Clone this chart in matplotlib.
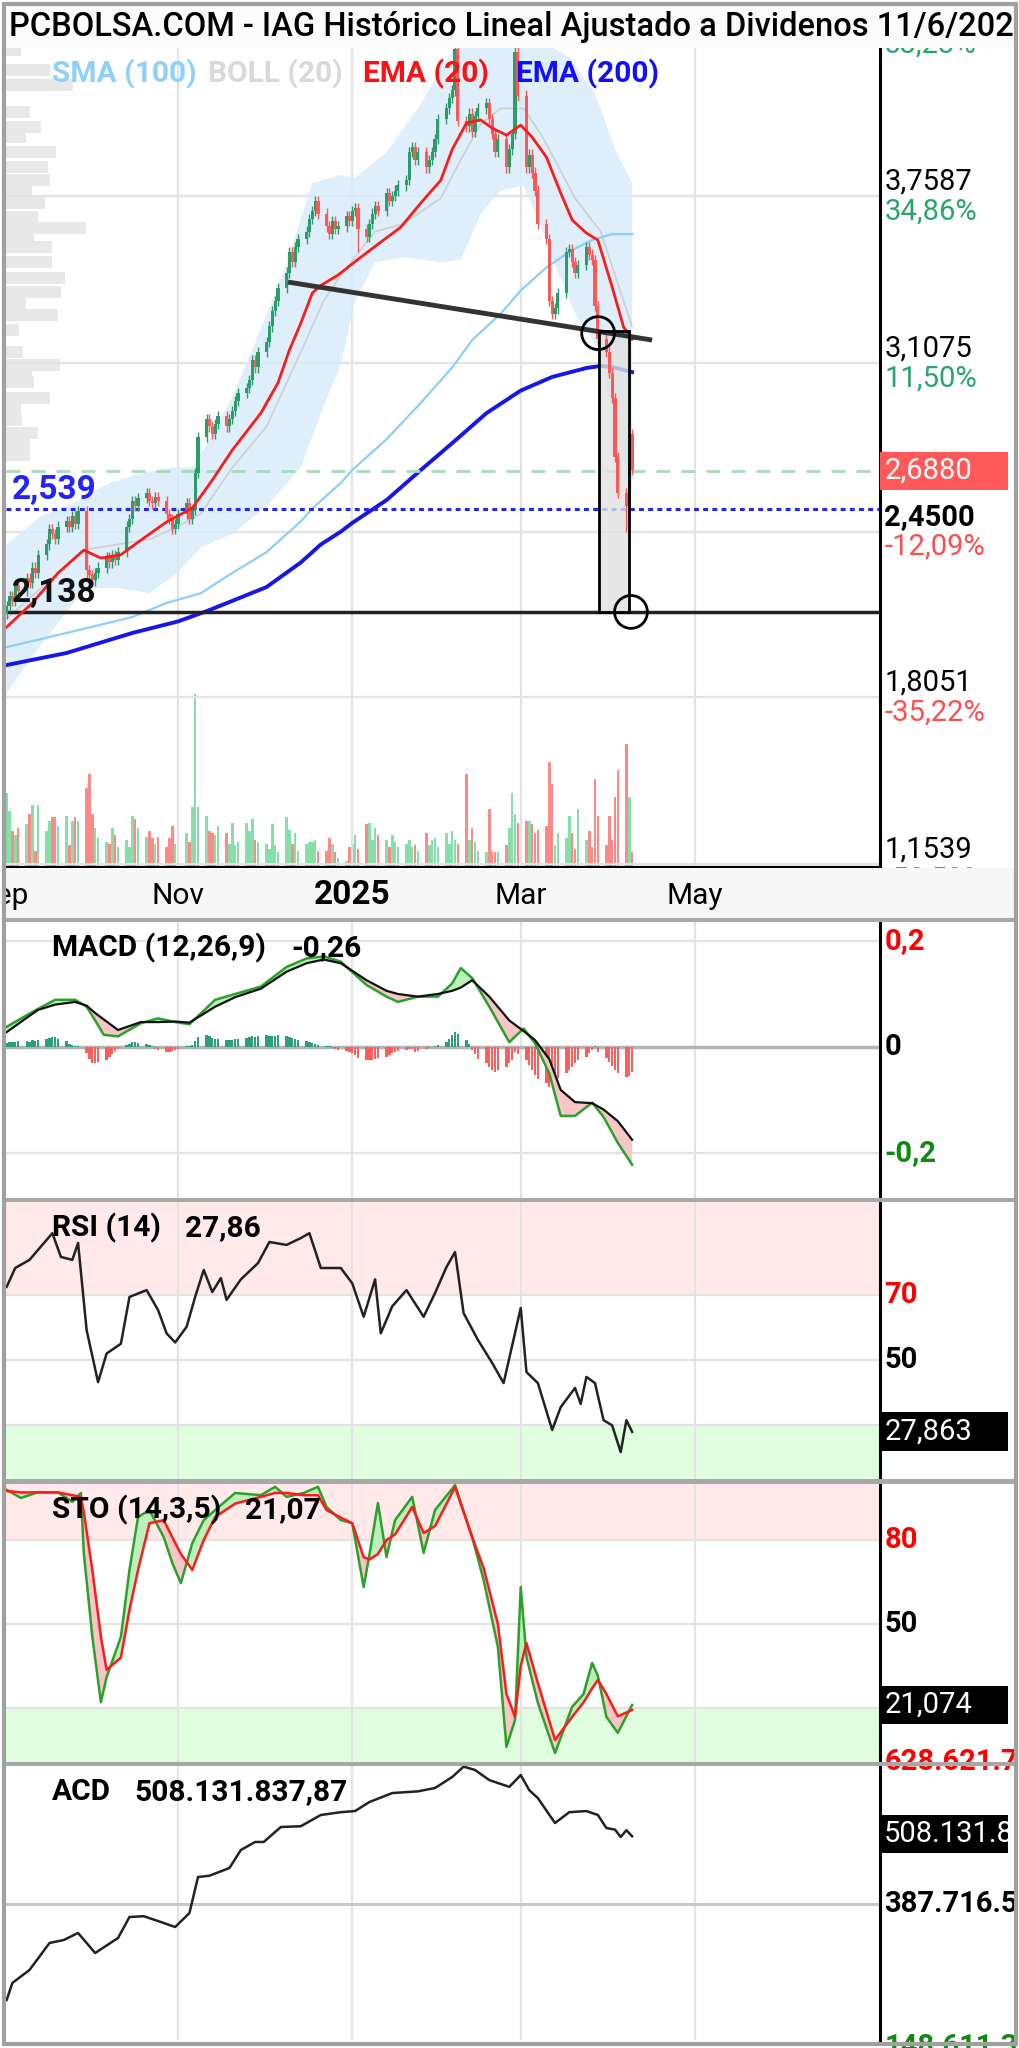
import numpy as np
import pandas as pd
import matplotlib
matplotlib.use("Agg")
import matplotlib.pyplot as plt
import matplotlib.transforms as mtransforms
from matplotlib.patches import Rectangle

plt.rcParams['font.family'] = ['Roboto', 'DejaVu Sans']

# ---------------- data (x = days counted from 2024-09-01) ----------------
origin = pd.Timestamp('2024-09-01')
trade_days = (pd.bdate_range('2024-09-02', '2025-04-09') - origin).days.values

month_days = [0, 61, 122, 181, 242]
month_labels = ['Sep', 'Nov', '2025', 'Mar', 'May']

first_open = 2.13
close = [
    # Sep
    2.16, 2.20, 2.18, 2.24, 2.22, 2.27, 2.25, 2.31, 2.29, 2.36, 2.40, 2.46, 2.44, 2.42, 2.47,
    2.49, 2.47, 2.51, 2.48, 2.53, 2.30,
    # Oct
    2.28, 2.26, 2.29, 2.31, 2.35, 2.33, 2.36, 2.34, 2.37, 2.47, 2.50, 2.57, 2.55, 2.58, 2.60,
    2.57, 2.56, 2.585, 2.57, 2.52, 2.50, 2.46, 2.48,
    # Nov
    2.52, 2.56, 2.50, 2.535, 2.68, 2.82, 2.89, 2.86, 2.83, 2.87, 2.90, 2.86, 2.89, 2.92, 2.96,
    2.99, 3.01, 3.04, 3.12, 3.09, 3.15,
    # Dec
    3.19, 3.25, 3.31, 3.35, 3.40, 3.46, 3.54, 3.50, 3.56, 3.59, 3.62, 3.67, 3.70, 3.74, 3.69,
    3.64, 3.61, 3.66, 3.63, 3.64, 3.68, 3.66,
    # Jan
    3.70, 3.71, 3.63, 3.60, 3.65, 3.69, 3.72, 3.70, 3.77, 3.74, 3.76, 3.78, 3.80, 3.82, 3.93,
    3.95, 3.90, 3.93, 3.87, 3.90, 3.93, 3.98, 4.06,
    # Feb
    4.10, 4.14, 4.17, 4.33, 4.05, 4.03, 4.08, 4.01, 4.07, 4.10, 4.12, 4.06, 4.00, 3.93, 3.98,
    3.87, 3.94, 4.00, 4.32, 4.15,
    # Mar
    3.87, 3.92, 3.85, 3.78, 3.65, 3.59, 3.35, 3.30, 3.32, 3.38, 3.54, 3.55, 3.50, 3.46, 3.49,
    3.56, 3.53, 3.51, 3.33, 3.20, 3.15,
    # Apr
    3.07, 2.97, 2.74, 2.60, 2.55, 2.83, 2.69,
]
long_low = {29: 2.26, 124: 3.54, 192: 3.28, 218: 2.45}
long_high = {158: 4.40}

volume = [
    43, 33, 21, 19, 23, 25, 31, 36, 10, 36, 21, 27, 29, 29, 24, 30, 13, 27, 29, 27, 46,
    54, 31, 23, 17, 15, 14, 23, 19, 12, 16, 12, 30, 28, 23, 18, 21, 17, 14, 18, 12, 17, 24, 14,
    13, 20, 15, 35, 100, 35, 30, 21, 20, 19, 24, 20, 14, 26, 13, 15, 26, 21, 28, 16, 15,
    14, 11, 25, 13, 9, 29, 22, 14, 20, 10, 14, 15, 15, 16, 10, 10, 17, 14, 9, 6, 4, 12,
    14, 19, 11, 25, 26, 16, 23, 19, 16, 12, 19, 15, 12, 14, 16, 12, 13, 10, 20, 13, 16, 17, 12,
    20, 14, 21, 16, 14, 54, 16, 23, 15, 10, 9, 34, 10, 9, 9, 13, 23, 43, 31, 26,
    27, 27, 25, 20, 22, 24, 61, 48, 13, 20, 17, 30, 20, 11, 34, 16, 21, 12, 51, 30, 13,
    30, 16, 41, 56, 71, 41, 9,
]

ema20_days = [1, 10, 19, 28, 34, 41, 48, 57, 66, 73, 80, 90, 96, 100, 104, 108, 111, 117, 125,
              132, 139, 146, 153, 157, 162, 167, 171, 176, 181, 185, 190, 195, 199, 204, 208,
              213, 217, 220]
ema20 = [2.078, 2.172, 2.289, 2.378, 2.347, 2.36, 2.417, 2.488, 2.542, 2.651, 2.768, 2.912,
         3.03, 3.158, 3.263, 3.38, 3.41, 3.45, 3.52, 3.579, 3.637, 3.731, 3.82, 3.94, 4.043,
         4.055, 4.023, 3.996, 4.035, 3.988, 3.91, 3.77, 3.665, 3.614, 3.587, 3.404, 3.248, 3.20]

boll_up_days = [1, 13, 26, 37, 49, 59, 66, 73, 80, 87, 98, 108, 118, 123, 134, 145, 154, 159,
                167, 181, 188, 198, 207, 214, 220]
boll_up = [2.40, 2.51, 2.57, 2.64, 2.68, 2.70, 2.70, 2.83, 2.975, 3.16, 3.46, 3.81, 3.84, 3.83,
           3.93, 4.10, 4.27, 4.36, 4.45, 4.45, 4.36, 4.30, 4.16, 3.94, 3.81]
boll_lo_days = [1, 9, 16, 23, 28, 40, 51, 61, 69, 80, 92, 104, 112, 118, 123, 130, 140, 153,
                160, 167, 174, 182, 188, 192, 200, 209, 214, 220]
boll_lo = [1.82, 1.95, 2.05, 2.15, 2.23, 2.23, 2.21, 2.29, 2.39, 2.44, 2.55, 2.70, 2.94, 3.10,
           3.35, 3.50, 3.52, 3.50, 3.51, 3.69, 3.78, 3.80, 3.64, 3.52, 3.30, 3.15, 2.85, 2.60]
boll_mid_days = [1, 16, 28, 40, 51, 61, 69, 80, 92, 104, 112, 118, 130, 140, 153, 160, 167,
                 174, 182, 188, 192, 200, 209, 214, 220]
boll_mid = [2.11, 2.26, 2.38, 2.40, 2.42, 2.47, 2.52, 2.70, 2.86, 3.15, 3.35, 3.45, 3.62, 3.65,
            3.75, 3.90, 4.04, 4.10, 4.10, 4.00, 3.92, 3.75, 3.62, 3.45, 3.25]

sma100_days = [1, 22, 45, 57, 69, 80, 92, 104, 108, 118, 122, 134, 146, 157, 164, 174, 181,
               190, 199, 206, 213, 220]
sma100 = [2.00, 2.055, 2.117, 2.172, 2.21, 2.289, 2.37, 2.49, 2.54, 2.64, 2.69, 2.81, 2.952,
          3.09, 3.197, 3.30, 3.39, 3.48, 3.548, 3.587, 3.61, 3.61]

ema200_days = [1, 22, 45, 61, 71, 80, 92, 104, 111, 118, 122, 134, 146, 157, 169, 181, 192,
               204, 209, 213, 220]
ema200 = [1.93, 1.977, 2.055, 2.10, 2.14, 2.18, 2.234, 2.33, 2.40, 2.45, 2.484, 2.573, 2.69,
          2.795, 2.912, 3.00, 3.053, 3.088, 3.096, 3.092, 3.072]

profile_price = [4.328, 4.25, 4.19, 4.086, 4.027, 3.99, 3.93, 3.872, 3.821, 3.774, 3.731,
                 3.677, 3.634, 3.607, 3.56, 3.501, 3.439, 3.384, 3.341, 3.295, 3.236, 3.15,
                 3.10, 3.072, 3.033, 2.971, 2.924, 2.885, 2.835, 2.788, 2.749]
profile_vol = [17, 50, 77, 27, 40, 23, 57, 48, 50, 30, 45, 37, 92, 32, 53, 53, 67, 63, 23, 60,
               15, 20, 62, 30, 32, 50, 17, 18, 37, 27, 27]

# the top level (4,4099) sits under the title bar, only its % text peeks out
price_levels = [1.1539, 1.8051, 2.4500, 3.1075, 3.7587, 4.4099]
price_labels = ['1,1539', '1,8051', '2,4500', '3,1075', '3,7587', '']
pct_labels = ['-58,59%', '-35,22%', '-12,09%', '11,50%', '34,86%', '58,23%']

last_price = 2.688
support_1 = 2.539
support_2 = 2.138
trend_days = [99.5, 227.0]
trend_price = [3.423, 3.197]
box_days = [208.4, 218.9]
box_price = [2.138, 3.232]
circle_days = [208.1, 219.6]
circle_price = [3.224, 2.137]

macd_days = [1, 8, 12, 18, 25, 29, 32, 35, 40, 48, 54, 60, 65, 74, 81, 90, 99, 106, 112, 118,
             127, 134, 138, 145, 152, 157, 160, 164, 170, 177, 182, 186, 191, 195, 200, 206,
             210, 215, 220]
macd = [.038, .060, .072, .089, .089, .076, .050, .023, .020, .045, .054, .047, .043, .089,
        .100, .114, .151, .167, .171, .161, .117, .095, .085, .095, .095, .120, .149, .130,
        .076, .009, .035, .007, -.050, -.130, -.130, -.105, -.132, -.181, -.222]
macd_signal = [.028, .055, .070, .080, .085, .078, .064, .052, .032, .047, .047, .048, .046,
               .076, .094, .110, .142, .158, .165, .158, .126, .106, .100, .095, .100, .106,
               .112, .126, .095, .050, .030, .013, -.023, -.081, -.104, -.106, -.118, -.140,
               -.175]
macd_hist_milli = [
    8, 10, 9, 10, 12, 11, 10, 13, 12, 14, 15, 17, 18, 19, 16, 12, 6, 3, 2, 1, -12,
    -22, -30, -31, -28, -24, -18, -14, -8, -4, 3, 6, 9, 10, 8, 6, 4, 2, -3, -6, -9, -10, -8, -5,
    -3, 2, 1, 3, 12, 18, 22, 20, 17, 16, 15, 14, 13, 14, 15, 16, 17, 18, 20, 19, 20,
    22, 21, 20, 21, 22, 20, 19, 17, 16, 14, 12, 10, 8, 6, 4, 2, 1, -2, -4, -6, -8, -10,
    -12, -16, -20, -24, -25, -24, -22, -20, -18, -15, -12, -10, -8, -6, -4, -3, -10, -8, -4,
    -2, 0, 2, 4,
    10, 16, 22, 28, 24, 14, 6, -6, -14, -22, -30, -38, -44, -47, -44, -38, -30, -24, -10, -14,
    -24, -34, -44, -52, -60, -68, -75, -72, -66, -58, -50, -44, -38, -30, -24, -18, -12, -6, 2,
    -10, -20,
    -28, -36, -44, -50, -57, -54, -48,
]

rsi_days = [1, 4, 9, 17, 20, 24, 26, 29, 33, 36, 41, 44, 50, 54, 57, 60, 64, 67, 70, 73, 76, 78,
            83, 89, 93, 99, 104, 107, 111, 118, 122, 126, 130, 132, 136, 141, 147, 151, 155,
            158, 161, 166, 171, 175, 181, 183, 187, 192, 195, 200, 202, 204, 207, 210, 213,
            216, 218, 220]
rsi = [72.5, 78.3, 80.8, 89, 81.7, 80.8, 86, 59.2, 43.2, 52, 55, 69.4, 71.5, 65.4, 58.2, 55.4,
       60.2, 69.4, 77.7, 70.9, 75.2, 68.5, 74.8, 79.8, 86.3, 85.4, 87.5, 89, 78.3, 78.3, 73.6,
       63.3, 74.8, 58.2, 66.5, 71.5, 63.3, 70.6, 78.6, 83.2, 64.4, 56.2, 49.1, 42.9, 66, 46.3,
       42.9, 28.5, 35.5, 41.4, 36.5, 44.8, 42.9, 31.5, 29.9, 21.7, 31.5, 27.9]

sto_days = [1, 6, 12, 19, 24, 27, 28, 31, 34, 36, 41, 44, 47, 51, 56, 59, 62, 66, 70, 74, 81,
            90, 95, 99, 105, 110, 113, 118, 122, 126, 128, 131, 134, 137, 143, 147, 151, 158,
            164, 168, 173, 176, 179, 181, 183, 187, 193, 199, 203, 206, 208, 211, 215, 220]
sto_k = [97.9, 95, 97.1, 97, 93.6, 96.8, 75.4, 45.4, 22.1, 31, 45.4, 69.3, 88.2, 90.7, 81, 71.8,
         64.6, 78.9, 87.1, 90.7, 96.8, 96, 99, 95.4, 96.8, 99, 91.8, 87.1, 86, 63.2, 74.6, 93.2,
         73.9, 87.1, 95.4, 75.4, 90.7, 99.6, 81, 65.7, 41.8, 6.1, 15.7, 63.2, 38.2, 21.8, 3.9,
         20.4, 25, 36.1, 31.5, 16.8, 11.1, 21.1]
sto_d = [97.5, 97, 97, 97, 96, 95.4, 90, 69.3, 45.4, 33.6, 38, 55, 69.3, 86, 87.1, 81, 75, 69.3,
         80, 88.2, 93, 95.4, 96.8, 96.8, 96, 96, 90.7, 88, 86, 73.9, 73, 75, 80, 82, 91.8, 82.5,
         85, 98.9, 81, 70, 50, 25, 16.8, 35, 43.2, 28.9, 8.6, 16.8, 22, 27, 30, 25, 17, 19.3]

acd_days = [1, 3, 9, 16, 21, 26, 32, 40, 44, 49, 55, 60, 65, 68, 72, 79, 83, 88, 91, 97, 104,
            111, 118, 123, 128, 136, 145, 151, 157, 161, 165, 170, 177, 181, 184, 187, 193, 198,
            204, 208, 211, 214, 216, 218, 220]
acd_millions = [217, 247.3, 270.4, 318.4, 323.7, 336.2, 300.6, 327.3, 364.6, 366, 355.7, 346.8,
                371.7, 435.7, 438, 451.7, 483.7, 498, 498, 524.6, 526, 546, 551, 553, 569, 585,
                588, 594, 613.5, 632, 626, 608, 596, 617, 590, 576, 531.7, 551, 553, 546, 522.8,
                520, 506.8, 519, 508.1]

# ---------------- layout helpers ----------------
W, H = 1020, 2048
fig = plt.figure(figsize=(W / 100, H / 100), dpi=100)
fig.patch.set_facecolor('white')

PX_PER_DAY = 2.856
X0_DAY = 0.77
GRID = '#e3e3e3'
GREEN = '#27a66b'
RED = '#ff4d4d'
FS = 21.5      # panel labels, legend, dates
FS_R = 21      # right-hand scale labels


def rect(x0, y0, x1, y1):
    return [x0 / W, 1 - y1 / H, (x1 - x0) / W, (y1 - y0) / H]


def xlim_for(x0, x1):
    return (X0_DAY, X0_DAY + (x1 - x0) / PX_PER_DAY)


def bare(ax):
    ax.set_xticks([])
    ax.set_yticks([])
    for s in ax.spines.values():
        s.set_visible(False)


def panel(y0, y1, ylim, bg='white'):
    ax = fig.add_axes(rect(6, y0, 880, y1))
    ax.set_facecolor(bg)
    ax.set_xlim(*xlim_for(6, 880))
    ax.set_ylim(*ylim)
    bare(ax)
    ax.spines['right'].set_visible(True)
    ax.spines['right'].set_color('black')
    ax.spines['right'].set_linewidth(2.2)
    return ax


def vgrid(ax):
    for d in month_days[1:]:
        ax.axvline(d, color=GRID, lw=1.6, zorder=0.6)


def rlabel(ax, y, s, color='black', dy=0, weight='normal'):
    if not s:
        return
    ax.annotate(s, xy=(1, y), xycoords=ax.get_yaxis_transform(), xytext=(3, dy),
                textcoords='offset points', va='center', ha='left', color=color,
                fontsize=FS_R, fontweight=weight, annotation_clip=False, zorder=12)


def vbox(ax, y, h, s, fc):
    ax.add_patch(Rectangle((1.0, y - h / 2), 0.1465, h, transform=ax.get_yaxis_transform(),
                           fc=fc, ec='none', clip_on=False, zorder=11))
    rlabel(ax, y, s, color='white')


def title_text(ax, xpx, s):
    ax.text(xpx / 874, 1 - 26 / 276, s, transform=ax.transAxes, fontsize=FS,
            fontweight='bold', va='center', zorder=6)


# ---------------- price panel ----------------
price_ylim = (1.1387, 4.4993)
ax_vol = panel(6, 868, (0, 495))
ax_vol.spines['right'].set_visible(False)
ax_prof = panel(6, 868, price_ylim, bg='none')
ax_prof.spines['right'].set_visible(False)
ax_prof.set_xlim(0, 1000)
ax = panel(6, 868, price_ylim, bg='none')
ax.spines['bottom'].set_visible(True)
ax.spines['bottom'].set_linewidth(3)

o = np.r_[first_open, close[:-1]]
c = np.asarray(close)
up = c >= o
cand_col = np.where(up, '#2a9d68', '#ff5656')
vol_col = np.where(up, '#86dea8', '#ff8888')

ax_vol.bar(trade_days, volume, width=0.9, color=vol_col, zorder=1)
ax_prof.barh(profile_price, profile_vol, height=0.048, left=0, color='#e8e8e8', zorder=1)

for lv in price_levels:
    ax.axhline(lv, color=GRID, lw=1.6, zorder=0.6)
vgrid(ax)

ax.fill(np.r_[boll_up_days, boll_lo_days[::-1]], np.r_[boll_up, boll_lo[::-1]],
        color='#d6ecfb', alpha=0.8, lw=0, zorder=1)
ax.plot(boll_mid_days, boll_mid, color='#cfcfcf', lw=1.2, zorder=1.5)
ax.plot(sma100_days, sma100, color='#8ccff8', lw=1.6, zorder=2)
ax.plot(ema200_days, ema200, color='#1616e8', lw=2.8, zorder=2)

ax.axhline(last_price, color='#a8d9bf', lw=2, ls=(0, (5, 4)), zorder=2.5)
ax.axhline(support_1, color='#2323ff', lw=2.2, ls=(0, (1.6, 1.4)), zorder=2.5)
ax.axhline(support_2, color='#222222', lw=2.5, zorder=2.5)

ax.add_patch(Rectangle((box_days[0], box_price[0]), box_days[1] - box_days[0],
                       box_price[1] - box_price[0], fc='#e2e2e2', alpha=0.8, ec='none',
                       zorder=2.7))

hi = np.maximum(o, c) + 0.02
lo = np.minimum(o, c) - 0.02
for d, v in long_low.items():
    lo[trade_days == d] = v
for d, v in long_high.items():
    hi[trade_days == d] = v
ax.vlines(trade_days, lo, hi, colors=cand_col, lw=1, zorder=3)
ax.bar(trade_days, np.maximum(np.abs(c - o), 0.008), bottom=np.minimum(o, c), width=1.1,
       color=cand_col, zorder=3)

ax.plot(ema20_days, ema20, color='#ff1a1a', lw=2, zorder=4)
ax.plot(trend_days, trend_price, color='#333333', lw=3.5, zorder=4.5, solid_capstyle='butt')
ax.add_patch(Rectangle((box_days[0], box_price[0]), box_days[1] - box_days[0],
                       box_price[1] - box_price[0], fill=False, ec='black', lw=2, zorder=5))
ax.scatter(circle_days, circle_price, s=560, facecolors='none', edgecolors='black',
           linewidths=2, zorder=5.5, clip_on=False)

ax.annotate('2,539', xy=(3, support_1), xytext=(0, 2), textcoords='offset points',
            color='#2323ff', fontsize=24, fontweight='bold', va='bottom', zorder=6)
ax.annotate('2,138', xy=(3, support_2), xytext=(0, 2), textcoords='offset points',
            color='#111111', fontsize=24, fontweight='bold', va='bottom', zorder=6)

for lv, pl, pc in zip(price_levels, price_labels, pct_labels):
    bold = 'bold' if pl == '2,4500' else 'normal'
    rlabel(ax, lv, pl, dy=10.5, weight=bold)
    rlabel(ax, lv, pc, color=RED if pc.startswith('-') else GREEN, dy=-11)
vbox(ax, last_price, 0.148, '2,6880', '#ff5959')

legend = [('SMA (100)', '#8fd0fa', 52), ('BOLL (20)', '#d9d9d9', 208),
          ('EMA (20)', '#ff1010', 363), ('EMA (200)', '#1010ff', 516)]
for txt, col, xp in legend:
    fig.text(xp / W, 1 - 74 / H, txt, color=col, fontsize=FS, fontweight='bold',
             va='center', ha='left', zorder=3)

# ---------------- date band ----------------
ax_x = fig.add_axes(rect(6, 868, 1016, 918), zorder=4)
ax_x.set_facecolor('#f7f7f7')
bare(ax_x)
tr = mtransforms.blended_transform_factory(ax.transData, ax_x.transAxes)
for d, lab in zip(month_days, month_labels):
    big = lab == '2025'
    ax_x.text(d, 0.45, lab, transform=tr, ha='center', va='center',
              fontsize=24 if big else FS, fontweight='bold' if big else 'normal', clip_on=True)

# ---------------- MACD ----------------
ax_m = panel(922, 1198, (-0.2849, 0.2358))
vgrid(ax_m)
for lv in (0.2, -0.2):
    ax_m.axhline(lv, color=GRID, lw=1.6, zorder=0.6)
ax_m.axhline(0, color='#b4b4b4', lw=2.5, zorder=0.7)
hist = np.asarray(macd_hist_milli) / 1000
ax_m.bar(trade_days, hist, width=0.8, color=np.where(hist >= 0, '#2e9e78', '#ff5c5c'), zorder=1)
md, ms = np.asarray(macd), np.asarray(macd_signal)
ax_m.fill_between(macd_days, md, ms, where=md >= ms, interpolate=True, color='#bdefbd', lw=0, zorder=1.5)
ax_m.fill_between(macd_days, md, ms, where=md < ms, interpolate=True, color='#f8c6c6', lw=0, zorder=1.5)
ax_m.plot(macd_days, md, color='#2ca02c', lw=1.8, zorder=2)
ax_m.plot(macd_days, ms, color='#111111', lw=1.6, zorder=2.2)
title_text(ax_m, 46, 'MACD (12,26,9)')
title_text(ax_m, 285, '-0,26')
rlabel(ax_m, 0.2, '0,2', color='#ff0000', weight='bold')
rlabel(ax_m, 0, '0', weight='bold')
rlabel(ax_m, -0.2, '-0,2', color='#118811', weight='bold')

# ---------------- RSI ----------------
ax_r = panel(1202, 1479, (13.4, 98.6))
ax_r.axhspan(70, 100, color='#ffe9e9', lw=0, zorder=0.3)
ax_r.axhspan(0, 30, color='#e0fde0', lw=0, zorder=0.3)
vgrid(ax_r)
for lv in (70, 50, 30):
    ax_r.axhline(lv, color=GRID, lw=1.6, zorder=0.6)
ax_r.plot(rsi_days, rsi, color='#222222', lw=1.8, zorder=2)
title_text(ax_r, 46, 'RSI (14)')
title_text(ax_r, 179, '27,86')
rlabel(ax_r, 70, '70', color='#ff0000', weight='bold')
rlabel(ax_r, 50, '50', weight='bold')
vbox(ax_r, 27.86, 12.0, '27,863', 'black')

# ---------------- STO ----------------
ax_s = panel(1484, 1762, (0.7, 100))
ax_s.axhspan(80, 100, color='#ffe9e9', lw=0, zorder=0.3)
ax_s.axhspan(0, 20, color='#e0fde0', lw=0, zorder=0.3)
vgrid(ax_s)
for lv in (80, 50, 20):
    ax_s.axhline(lv, color=GRID, lw=1.6, zorder=0.6)
kk, dd = np.asarray(sto_k), np.asarray(sto_d)
ax_s.fill_between(sto_days, kk, dd, where=kk >= dd, interpolate=True, color='#bdefbd', lw=0, zorder=1.5)
ax_s.fill_between(sto_days, kk, dd, where=kk < dd, interpolate=True, color='#f8c6c6', lw=0, zorder=1.5)
ax_s.plot(sto_days, kk, color='#2ca02c', lw=1.8, zorder=2)
ax_s.plot(sto_days, dd, color='#ff1a1a', lw=1.8, zorder=2.2)
title_text(ax_s, 46, 'STO (14,3,5)')
title_text(ax_s, 239, '21,07')
rlabel(ax_s, 80, '80', color='#ff0000', weight='bold')
rlabel(ax_s, 50, '50', weight='bold')
vbox(ax_s, 21.07, 13.9, '21,074', 'black')

# ---------------- ACD ----------------
ax_a = panel(1766, 2040, (145.9, 633.1))
vgrid(ax_a)
ax_a.axhline(387.7165, color='#c8c8c8', lw=2.2, zorder=0.7)
ax_a.plot(acd_days, acd_millions, color='#222222', lw=1.8, zorder=2)
title_text(ax_a, 46, 'ACD')
title_text(ax_a, 128, '508.131.837,87')
rlabel(ax_a, 628.62, '628.621.7', color='#ff0000', weight='bold', dy=5)
rlabel(ax_a, 387.72, '387.716.5', weight='bold')
rlabel(ax_a, 148.61, '148.611.3', color='#118811', weight='bold', dy=-6)
vbox(ax_a, 512.0, 67.5, '508.131.8', 'black')

# ---------------- title bar, separators, frame ----------------
ax_t = fig.add_axes(rect(4, 4, 1016, 48), zorder=6)
ax_t.set_facecolor('#fbfbfb')
bare(ax_t)
ax_t.text(0.005, 0.47, 'PCBOLSA.COM - IAG Histórico Lineal Ajustado a Dividenos 11/6/2025',
          transform=ax_t.transAxes, ha='left', va='center', fontsize=23.5, fontweight='medium',
          clip_on=True)

for ya, yb in [(918, 922), (1198, 1202), (1479, 1484), (1762, 1766)]:
    fig.add_artist(Rectangle((4 / W, 1 - yb / H), 1012 / W, (yb - ya) / H, fc='#a8a8a8',
                             ec='none', transform=fig.transFigure, zorder=7))
fig.add_artist(Rectangle((4 / W, 1 - 2044 / H), 1012 / W, 2040 / H, fill=False, ec='#a0a0a0',
                         lw=3, transform=fig.transFigure, zorder=8))

fig.savefig('out.png', dpi=100, facecolor='white')
